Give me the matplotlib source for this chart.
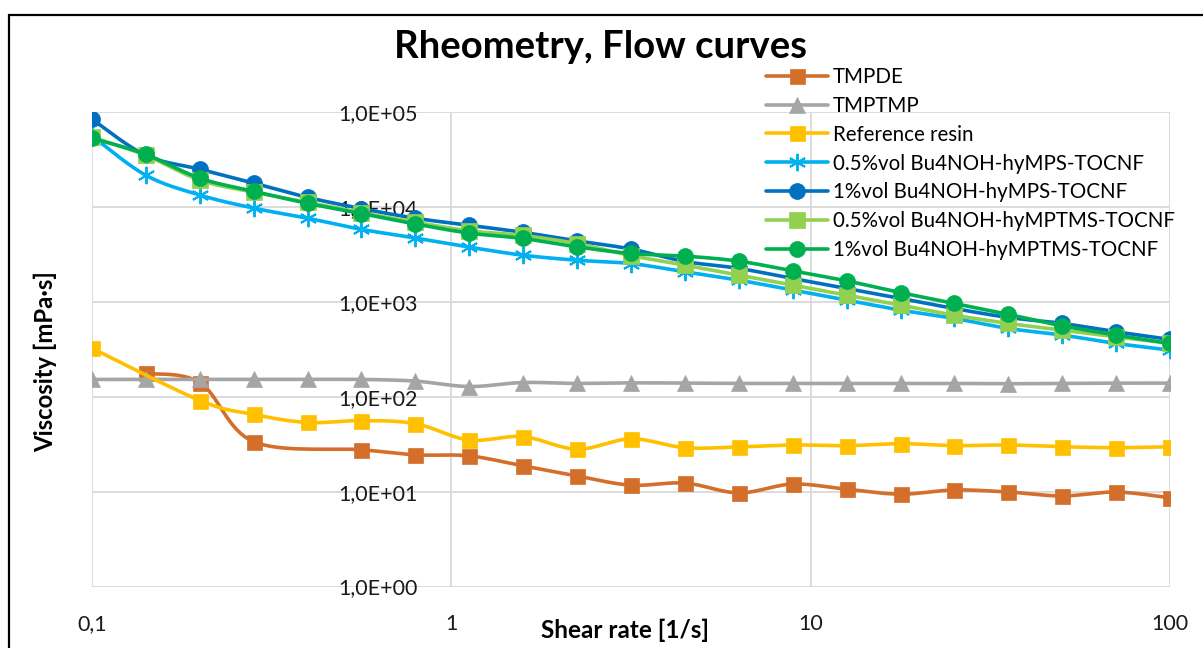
import numpy as np
import matplotlib
matplotlib.use("Agg")
import matplotlib.pyplot as plt
from matplotlib.ticker import FixedLocator, FuncFormatter, NullLocator

plt.rcParams['font.family'] = ['Lato', 'DejaVu Sans']

# shear rate grid (1/s), 20 steps over three decades
shear = [0.1, 0.141, 0.2, 0.282, 0.398, 0.562, 0.794, 1.12, 1.58, 2.24, 3.16,
         4.47, 6.31, 8.91, 12.6, 17.8, 25.1, 35.5, 50.1, 70.8, 100]

# viscosity in mPa*s
tmpde_idx = [1, 2, 3, 5, 6, 7, 8, 9, 10, 11, 12, 13, 14, 15, 16, 17, 18, 19, 20]
tmpde = [176, 140, 33.5, 27.6, 24.4, 23.8, 18.7, 14.6, 11.7, 12.3, 9.7, 12.0,
         10.6, 9.4, 10.4, 9.9, 9.0, 9.9, 8.6]

tmptmp = [152, 152, 152, 152, 152, 152, 146, 128, 141, 138, 140, 139, 138, 138,
          138, 138, 138, 137, 138, 139, 139]

ref_idx = [0, 2, 3, 4, 5, 6, 7, 8, 9, 10, 11, 12, 13, 14, 15, 16, 17, 18, 19, 20]
ref_resin = [324, 91, 65, 53.5, 56, 52, 35, 38, 28, 36, 29, 29.6, 31, 30.5, 32,
             30.5, 31, 29.7, 29, 29.7]

mps_05 = [56000, 21600, 13300, 9700, 7600, 5800, 4700, 3770, 3100, 2740, 2530,
          2070, 1690, 1330, 1040, 817, 668, 524, 446, 364, 310]
mps_1 = [84000, 35000, 24900, 17800, 12600, 9600, 7600, 6400, 5400, 4380, 3600,
         2660, 2250, 1760, 1380, 1085, 850, 684, 592, 483, 401]
mptms_05 = [54200, 35000, 19100, 14300, 11200, 8700, 6900, 5600, 5000, 4100,
            3070, 2430, 1910, 1500, 1175, 922, 723, 592, 503, 427, 365]
mptms_1 = [53000, 35800, 20000, 14600, 10900, 8500, 6600, 5300, 4650, 3790,
           3230, 3030, 2680, 2120, 1660, 1250, 961, 736, 558, 446, 364]

labels = ["TMPDE", "TMPTMP", "Reference resin", "0.5%vol Bu4NOH-hyMPS-TOCNF",
          "1%vol Bu4NOH-hyMPS-TOCNF", "0.5%vol Bu4NOH-hyMPTMS-TOCNF",
          "1%vol Bu4NOH-hyMPTMS-TOCNF"]


def smooth(x, y, n=16):
    # Catmull-Rom curve through the points in log-log space
    lx, ly = np.log10(x), np.log10(y)
    p = np.column_stack([lx, ly])
    p = np.vstack([p[0], p, p[-1]])
    out = []
    t = np.linspace(0, 1, n, endpoint=False)[:, None]
    for i in range(1, len(p) - 2):
        p0, p1, p2, p3 = p[i - 1], p[i], p[i + 1], p[i + 2]
        c1 = p1 + (p2 - p0) / 6
        c2 = p2 - (p3 - p1) / 6
        seg = ((1 - t) ** 3 * p1 + 3 * (1 - t) ** 2 * t * c1
               + 3 * (1 - t) * t ** 2 * c2 + t ** 3 * p2)
        out.append(seg)
    out.append(p[-2][None, :])
    out = np.vstack(out)
    marks = list(range(0, len(out), n))
    return 10 ** out[:, 0], 10 ** out[:, 1], marks


fig = plt.figure(figsize=(12.03, 6.48), dpi=100)
ax = fig.add_axes([92 / 1203, 1 - 586.5 / 648, (1170 - 92) / 1203, (586.5 - 112) / 648])

series = [
    ([shear[i] for i in tmpde_idx], tmpde, '#D36F2B', 's', 10.8),
    (shear, tmptmp, '#A5A5A5', '^', 11),
    ([shear[i] for i in ref_idx], ref_resin, '#FFC000', 's', 10.8),
    (shear, mps_05, '#00B0F0', (6, 2, 0), 12.5),
    (shear, mps_1, '#0070C0', 'o', 11.5),
    (shear, mptms_05, '#92D050', 's', 11),
    (shear, mptms_1, '#00B050', 'o', 11.5),
]

for (x, y, c, m, ms), lab in zip(series, labels):
    sx, sy, marks = smooth(x, y)
    ax.plot(sx, sy, color=c, lw=2.6, marker=m, ms=ms, markevery=marks,
            mec=c, mew=1.4 if m == (6, 2, 0) else 0.5, label=lab,
            solid_capstyle='round')

ax.set_xscale('log')
ax.set_yscale('log')
ax.set_xlim(0.1, 100)
ax.set_ylim(1, 1e5)

ax.xaxis.set_major_locator(FixedLocator([0.1, 1, 10, 100]))
ax.xaxis.set_minor_locator(NullLocator())
ax.yaxis.set_major_locator(FixedLocator([1, 10, 100, 1e3, 1e4, 1e5]))
ax.yaxis.set_minor_locator(NullLocator())
ax.xaxis.set_major_formatter(FuncFormatter(lambda v, p: ('%g' % v).replace('.', ',')))
ax.yaxis.set_major_formatter(FuncFormatter(lambda v, p: '1,0E+%02d' % round(np.log10(v))))

ax.grid(True, color='#D9D9D9', lw=1.3)
ax.set_axisbelow(True)
for s in ax.spines.values():
    s.set_visible(False)
ax.spines['left'].set_position(('data', 1))
ax.tick_params(axis='both', length=0, labelsize=15.5, colors='#1a1a1a')
ax.tick_params(axis='y', pad=24)
ax.tick_params(axis='x', pad=20)

fig.text(0.4988, 1 - 47 / 648, 'Rheometry, Flow curves', ha='center', va='center',
         fontsize=27.5, fontweight='bold')
fig.text(45 / 1203, 1 - 362 / 648, 'Viscosity [mPa·s]', rotation=90, ha='center',
         va='center', fontsize=17.2, fontweight='bold')
fig.text(625 / 1203, 1 - 630 / 648, 'Shear rate [1/s]', ha='center', va='center',
         fontsize=17.5, fontweight='bold')

ax.legend(loc='upper left', bbox_to_anchor=(766 / 1203, 1 - 67 / 648),
          bbox_transform=fig.transFigure, frameon=False, fontsize=14.8,
          handlelength=3.0, handletextpad=0.25, labelspacing=0.43,
          borderaxespad=0, borderpad=0)

fig.patches.append(plt.Rectangle((8.5 / 1203, -0.05), 1.1, 1.05 - 14.5 / 648,
                                 transform=fig.transFigure, fill=False,
                                 edgecolor='black', lw=1.6))

fig.savefig('out.png', dpi=100)
